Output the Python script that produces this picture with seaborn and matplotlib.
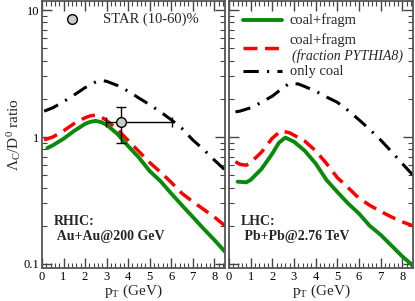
import numpy as np
import pandas as pd
import matplotlib
matplotlib.use("Agg")
import matplotlib.pyplot as plt
import seaborn as sns
from matplotlib.ticker import MultipleLocator, LogLocator, NullFormatter, FixedLocator

sns.set_theme(style="ticks")
plt.rcParams['font.family'] = ['Liberation Serif', 'DejaVu Serif']
plt.rcParams['mathtext.fontset'] = 'custom'
plt.rcParams['mathtext.rm'] = 'Liberation Serif'
plt.rcParams['mathtext.it'] = 'Liberation Serif:italic'

# RHIC (left panel)
rhic_green_pt = [0.25, 0.5, 1, 1.5, 2, 2.25, 2.5, 2.75, 3, 3.5, 4, 4.5, 5, 5.5, 6, 6.5, 7, 7.5, 8, 8.5]
rhic_green = [0.82, 0.86, 0.97, 1.12, 1.27, 1.32, 1.34, 1.31, 1.25, 1.06, 0.85, 0.69, 0.54, 0.45, 0.36, 0.29, 0.235, 0.19, 0.155, 0.125]
rhic_red_pt = [0.1, 0.5, 1, 1.5, 2, 2.25, 2.5, 2.75, 3, 3.5, 4, 4.5, 5, 5.5, 6, 6.5, 7, 7.5, 8, 8.5]
rhic_red = [0.95, 1.0, 1.12, 1.28, 1.42, 1.47, 1.49, 1.44, 1.35, 1.15, 0.94, 0.77, 0.63, 0.53, 0.44, 0.36, 0.31, 0.27, 0.235, 0.2]
rhic_black_pt = [0.1, 0.5, 1, 1.5, 2, 2.5, 2.7, 3, 3.5, 4, 4.5, 5, 5.5, 6, 6.5, 7, 7.5, 8, 8.5]
rhic_black = [1.6, 1.7, 1.9, 2.15, 2.45, 2.72, 2.8, 2.75, 2.55, 2.3, 2.03, 1.8, 1.58, 1.37, 1.17, 0.95, 0.8, 0.66, 0.55]

# LHC (right panel)
lhc_green_pt = [0.4, 0.8, 1, 1.5, 2, 2.3, 2.6, 3, 3.5, 4, 4.5, 5, 5.5, 6, 6.5, 7, 7.5, 8, 8.5]
lhc_green = [0.445, 0.44, 0.46, 0.56, 0.74, 0.9, 0.99, 0.92, 0.78, 0.62, 0.46, 0.37, 0.30, 0.25, 0.2, 0.17, 0.14, 0.115, 0.097]
lhc_red_pt = [0.3, 0.5, 0.8, 1, 1.5, 2, 2.4, 2.8, 3.5, 4, 4.5, 5, 5.5, 6, 6.5, 7, 7.5, 8, 8.5]
lhc_red = [0.64, 0.61, 0.6, 0.63, 0.76, 0.98, 1.12, 1.08, 0.93, 0.78, 0.62, 0.48, 0.40, 0.33, 0.29, 0.26, 0.235, 0.215, 0.2]
lhc_black_pt = [0.3, 0.5, 1, 1.5, 2, 2.5, 2.8, 3.2, 3.5, 4, 4.5, 5, 5.5, 6, 6.5, 7, 7.5, 8, 8.5]
lhc_black = [1.58, 1.6, 1.7, 1.88, 2.1, 2.45, 2.65, 2.62, 2.5, 2.3, 2.07, 1.88, 1.62, 1.37, 1.15, 0.95, 0.77, 0.62, 0.5]

# STAR data point
star_pt = [3.66]
star_val = [1.31]
star_xlo = [2.99]
star_xhi = [6.02]
star_ylo = [0.90]
star_yhi = [1.73]

green = '#0a8a0a'
red = '#ff0000'
dashdot = (0, (5, 2.7, 0.7, 2.7))
dashed = (0, (4, 2.2))

fig = plt.figure(figsize=(4.15, 3.01), dpi=100)
axL = fig.add_axes([42/415, 1-268/301, 183/415, 267/301])
axR = fig.add_axes([229/415, 1-268/301, 184/415, 267/301])

def draw(ax, gpt, g, rpt, r, bpt, b):
    sns.lineplot(x=bpt, y=b, ax=ax, color='black', lw=2.2, linestyle=dashdot)
    sns.lineplot(x=rpt, y=r, ax=ax, color=red, lw=2.5, linestyle=dashed)
    sns.lineplot(x=gpt, y=g, ax=ax, color=green, lw=2.8)

draw(axL, rhic_green_pt, rhic_green, rhic_red_pt, rhic_red, rhic_black_pt, rhic_black)
draw(axR, lhc_green_pt, lhc_green, lhc_red_pt, lhc_red, lhc_black_pt, lhc_black)

# STAR point
xerr = [[star_pt[0]-star_xlo[0]], [star_xhi[0]-star_pt[0]]]
yerr = [[star_val[0]-star_ylo[0]], [star_yhi[0]-star_val[0]]]
axL.errorbar(star_pt, star_val, xerr=xerr, yerr=yerr, fmt='o', ms=7,
             mfc='#cccccc', mec='black', mew=1.0, ecolor='black', elinewidth=1.0,
             capsize=3.5, capthick=1.0, zorder=5)

for ax in (axL, axR):
    leg = ax.get_legend()
    if leg is not None:
        leg.remove()
    ax.set_yscale('log')
    ax.set_xlim(0, 8.5)
    ax.set_ylim(0.093, 11.8)
    ax.xaxis.set_major_locator(MultipleLocator(1))
    ax.xaxis.set_minor_locator(MultipleLocator(0.2))
    ax.yaxis.set_major_locator(FixedLocator([0.1, 1, 10]))
    ax.yaxis.set_minor_locator(LogLocator(base=10, subs=np.arange(2, 10)))
    ax.yaxis.set_minor_formatter(NullFormatter())
    ax.tick_params(which='both', direction='in', top=True, right=True, colors='#444444',
                   labelcolor='black', labelsize=9, pad=2)
    ax.tick_params(which='major', length=7, width=1.0)
    ax.tick_params(which='minor', length=3.5, width=0.8)
    for s in ax.spines.values():
        s.set_color('#555555')
        s.set_linewidth(1.3)
    ax.set_xlabel('p$_\\mathrm{T}$ (GeV)', fontsize=11, labelpad=0)
    ax.set_ylabel('')

axL.set_yticklabels(['0.1', '1', '10'])
axR.set_yticklabels([])
axL.set_ylabel('$\\Lambda_\\mathrm{C}$/D$^\\mathrm{0}$ ratio', fontsize=11, labelpad=0)

# STAR legend
axL.plot([1.4], [8.5], 'o', ms=7, mfc='#cccccc', mec='black', mew=1.0)
axL.text(2.85, 8.5, 'STAR (10-60)%', fontsize=10.5, va='center', ha='left')

# right legend drawn manually
axR.plot([0.65, 2.45], [8.3, 8.3], color=green, lw=2.8)
axR.plot([0.65, 2.45], [5.05, 5.05], color=red, lw=2.5, linestyle=dashed)
axR.plot([0.65, 2.45], [3.3, 3.3], color='black', lw=2.2, linestyle=dashdot)
axR.text(2.8, 8.3, 'coal+fragm', fontsize=10.5, va='center')
axR.text(2.8, 5.8, 'coal+fragm', fontsize=10.5, va='center')
axR.text(2.9, 4.35, '(fraction PYTHIA8)', fontsize=10, va='center', style='italic')
axR.text(2.8, 3.3, 'only coal', fontsize=10.5, va='center')

axL.text(0.55, 0.19, 'RHIC:\n Au+Au@200 GeV', fontsize=10, fontweight='bold', va='center')
axR.text(0.55, 0.19, 'LHC:\n Pb+Pb@2.76 TeV', fontsize=10, fontweight='bold', va='center')

fig.savefig('out.png', dpi=100)
